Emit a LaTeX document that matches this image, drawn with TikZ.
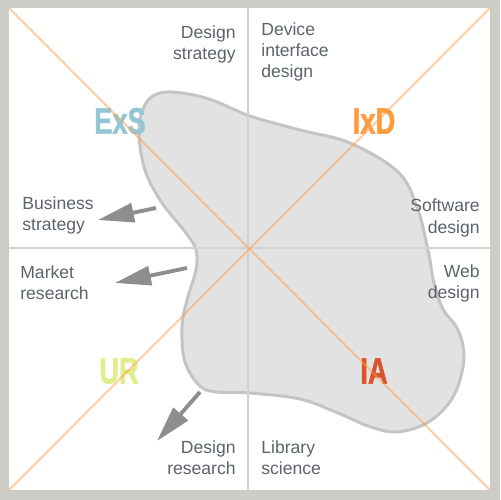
\documentclass[tikz,border=0pt]{standalone}
\usepackage{fontspec}
\setmainfont{Liberation Sans}
\newfontfamily\tagfont[FakeBold=1.6]{Liberation Sans Bold}
\usetikzlibrary{arrows.meta}
\definecolor{framecol}{HTML}{CDCDC8}
\definecolor{blobcol}{HTML}{E2E2E2}
\definecolor{blobline}{HTML}{C4C4C4}
\definecolor{crosscol}{HTML}{D2D2D2}
\definecolor{diagcol}{HTML}{FF9D45}
\definecolor{txtcol}{HTML}{5B6469}
\definecolor{arrcol}{HTML}{8E8E8E}
\definecolor{exscol}{HTML}{93C7D3}
\definecolor{ixdcol}{HTML}{FF9A3D}
\definecolor{urcol}{HTML}{E2EE8B}
\definecolor{iacol}{HTML}{D9532C}
\tikzset{
    field/.style={font=\fontsize{10}{12}\selectfont, text=txtcol, inner sep=0pt},
    tag/.style={font=\fontsize{21}{21}\selectfont\tagfont\bfseries, xscale=0.74, inner sep=0pt},
    push/.style={arrcol, line width=2.2pt, -{Triangle[length=0.72cm,width=0.38cm]}},
}

\begin{document}
\begin{tikzpicture}[x=0.02cm, y=-0.02cm]
    \fill[framecol] (0,0) rectangle (500,500);
    \fill[white] (9,8) rectangle (490,490);

    % the blob
    \filldraw[fill=blobcol, draw=blobline, line width=1.7pt]
        plot[smooth cycle, tension=0.6] coordinates {
            (139,128) (146,103) (160,93) (182,93) (212,100) (250,116)
            (300,130) (350,143) (398,172) (417,207) (428,250) (434,283)
            (443,309) (458,330) (464,356) (458,386) (445,408) (423,425)
            (395,432) (368,426) (338,413) (300,399) (250,393) (217,392)
            (200,386) (185,362) (182,327) (187,300) (196,270) (196,250)
            (186,233) (160,200) (144,167)};

    \draw[crosscol, line width=0.9pt] (248,8) -- (248,490);
    \draw[crosscol, line width=0.9pt] (9,248) -- (490,248);

    \foreach \txt/\col/\x/\y/\name in {ExS/exscol/120/121/exs, IxD/ixdcol/374/121/ixd,
                                       UR/urcol/119/371/ur, IA/iacol/374/371/ia}
    {
        \node[tag, text=\col] (\name) at (\x,\y) {\txt};
    }

    \draw[diagcol, opacity=0.5, line width=1.1pt] (9,8) -- (490,490);
    \draw[diagcol, opacity=0.5, line width=1.1pt] (490,8) -- (9,490);

    \coordinate (bizfrom) at (156,208);
    \coordinate (bizto) at (98,220);
    \coordinate (mktfrom) at (187,268);
    \coordinate (mktto) at (115,283);
    \coordinate (resfrom) at (200,392);
    \coordinate (resto) at (157,441);
    \draw[push] (bizfrom) -- (bizto);
    \draw[push] (mktfrom) -- (mktto);
    \draw[push] (resfrom) -- (resto);

    \node[field, anchor=east, align=right] (dstrat) at (236,44) {Design\\strategy};
    \node[field, anchor=west, align=left] (device) at (261,52) {Device\\interface\\design};
    \node[field, anchor=west, align=left] (bizstrat) at (22,215) {Business\\strategy};
    \node[field, anchor=east, align=right] (soft) at (480,218) {Software\\design};
    \node[field, anchor=west, align=left] (market) at (20,283) {Market\\research};
    \node[field, anchor=east, align=right] (web) at (480,283) {Web\\design};
    \node[field, anchor=east, align=right] (dres) at (236,458) {Design\\research};
    \node[field, anchor=west, align=left] (library) at (261,458) {Library\\science};
\end{tikzpicture}
\end{document}
